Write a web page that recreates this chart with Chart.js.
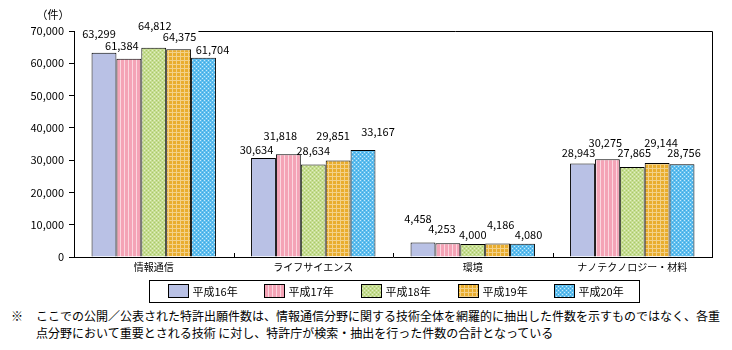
<!DOCTYPE html>
<html>
<head>
<meta charset="utf-8">
<script src="https://cdn.jsdelivr.net/npm/chart.js@4.4.0/dist/chart.umd.min.js"></script>
<style>
  body { margin: 0; background: #fff; width: 732px; height: 350px; overflow: hidden; }
  #wrap { position: relative; width: 732px; height: 305px; }
  .note { font: 12px "Noto Sans CJK JP", sans-serif; color: #000; position: absolute; left: 11px; top: 307px; width: 721px; line-height: 17px; white-space: nowrap; }
  .note span { position: absolute; left: 0; }
  .note div { margin-left: 25px; }
</style>
</head>
<body>
<div id="wrap"><canvas id="chart" width="732" height="305"></canvas></div>
<div class="note"><span>※</span><div>ここでの公開／公表された特許出願件数は、情報通信分野に関する技術全体を網羅的に抽出した件数を示すものではなく、各重<br>点分野において重要とされる技術 に対し、特許庁が検索・抽出を行った件数の合計となっている</div></div>
<script>
// データ
const categories = ['情報通信', 'ライフサイエンス', '環境', 'ナノテクノロジー・材料'];
const years = ['平成16年', '平成17年', '平成18年', '平成19年', '平成20年'];
const h16 = [63299, 30634, 4458, 28943];
const h17 = [61384, 31818, 4253, 30275];
const h18 = [64812, 28634, 4000, 27865];
const h19 = [64375, 29851, 4186, 29144];
const h20 = [61704, 33167, 4080, 28756];
const yTicks = [0, 10000, 20000, 30000, 40000, 50000, 60000, 70000];

const FONT = '"Noto Sans CJK JP", sans-serif';

// posun popisov (štýl, nie dáta): medzera nad stĺpcom a vodorovný posun
const labelGap = [[15, 4, 20, 7], [9, 14, 10, 12], [18, 10, 5, 10], [8, 21, 14, 16], [4, 14, 5, 7]];
const labelDx = [[-5, -7, -5, -4], [-7, -8, -6, -2], [1, 0, 0, 2], [1, -5, 3, 4], [9, 15, 6, 2]];

// vzorky výplne
function makePattern(kind) {
    const c = document.createElement('canvas');
    const s = 4;
    c.width = s; c.height = s;
    const g = c.getContext('2d');
    if (kind === 0) {
        g.fillStyle = '#b9c1e5'; g.fillRect(0, 0, s, s);
    } else if (kind === 1) {
        g.fillStyle = '#f4a3b6'; g.fillRect(0, 0, s, s);
        g.fillStyle = '#fbd6df'; g.fillRect(0, 0, 1, s);
    } else if (kind === 2) {
        g.fillStyle = '#c6dd91'; g.fillRect(0, 0, s, s);
        g.fillStyle = '#a9c86a';
        g.fillRect(0, 0, 1, 1); g.fillRect(2, 2, 1, 1);
        g.fillStyle = '#e2efc6';
        g.fillRect(2, 0, 1, 1); g.fillRect(0, 2, 1, 1);
    } else if (kind === 3) {
        g.fillStyle = '#e9ad2e'; g.fillRect(0, 0, s, s);
        g.fillStyle = '#f3d189';
        g.fillRect(0, 0, s, 1); g.fillRect(0, 0, 1, s);
    } else {
        g.fillStyle = '#5fbeee'; g.fillRect(0, 0, s, s);
        g.fillStyle = '#c9ebfb';
        g.fillRect(0, 0, 1, 1); g.fillRect(2, 2, 1, 1);
        g.fillStyle = '#3ea8e4';
        g.fillRect(2, 0, 1, 1); g.fillRect(0, 2, 1, 1);
    }
    return document.getElementById('chart').getContext('2d').createPattern(c, 'repeat');
}

const series = [h16, h17, h18, h19, h20];
const datasets = series.map((d, i) => ({
    label: years[i],
    data: d,
    backgroundColor: makePattern(i),
    borderColor: '#000',
    borderWidth: 1,
    borderSkipped: 'bottom',
    categoryPercentage: 0.78,
    barPercentage: 1.0
}));

const fmt = v => v.toLocaleString('en-US');

// hodnoty nad stĺpcami + rám + legenda
const extras = {
    id: 'extras',
    afterDatasetsDraw(chart) {
        const ctx = chart.ctx;
        const a = chart.chartArea;
        ctx.save();
        ctx.strokeStyle = '#000';
        ctx.lineWidth = 1;
        // značky kategórií
        const xs = chart.scales.x;
        for (let k = 1; k < categories.length; k++) {
            const x = Math.round((xs.getPixelForValue(k - 1) + xs.getPixelForValue(k)) / 2) + 0.5;
            ctx.beginPath();
            ctx.moveTo(x, a.bottom);
            ctx.lineTo(x, a.bottom - 4);
            ctx.stroke();
        }
        // hodnoty
        ctx.font = '11px ' + FONT;
        ctx.textAlign = 'center';
        ctx.textBaseline = 'alphabetic';
        let lineStart = a.left;
        chart.data.datasets.forEach((ds, i) => {
            chart.getDatasetMeta(i).data.forEach((bar, j) => {
                const txt = fmt(ds.data[j]);
                const x = bar.x + labelDx[i][j];
                const y = bar.y - labelGap[i][j];
                const w = ctx.measureText(txt).width;
                if (y - 10 < a.top + 1) lineStart = Math.max(lineStart, x + w / 2 + 2);
                ctx.fillStyle = '#000';
                ctx.fillText(txt, x, y);
            });
        });
        // horný a pravý okraj
        ctx.beginPath();
        ctx.moveTo(lineStart, a.top + 0.5);
        ctx.lineTo(a.right + 0.5, a.top + 0.5);
        ctx.lineTo(a.right + 0.5, a.bottom);
        ctx.stroke();
        // (件)
        ctx.textAlign = 'center';
        ctx.textBaseline = 'middle';
        ctx.font = '11px ' + FONT;
        ctx.fillText('（件）', 53, 15);
        // legenda
        const n = chart.data.datasets.length;
        const step = 96.7;
        const lw = 490;
        const lx = Math.round((a.left + a.right) / 2 - lw / 2 + 0.5) + 0.5;
        const ly = 280.5;
        ctx.strokeRect(lx, ly, lw, 22);
        ctx.font = '11px ' + FONT;
        ctx.textAlign = 'left';
        chart.data.datasets.forEach((ds, i) => {
            const sx = Math.round(lx + 18 + i * step) + 0.5;
            ctx.fillStyle = ds.backgroundColor;
            ctx.fillRect(sx, ly + 4, 20, 13);
            ctx.strokeRect(sx, ly + 4, 20, 13);
            ctx.fillStyle = '#000';
            ctx.fillText(ds.label, sx + 24, ly + 11);
        });
        ctx.restore();
    }
};

new Chart(document.getElementById('chart'), {
    type: 'bar',
    data: { labels: categories, datasets: datasets },
    options: {
        responsive: false,
        animation: false,
        layout: { padding: { top: 31, right: 20, left: 0, bottom: 28 } },
        plugins: {
            legend: { display: false },
            tooltip: { enabled: false }
        },
        scales: {
            x: {
                grid: { display: false, drawTicks: false },
                border: { color: '#000', width: 1 },
                ticks: { color: '#000', font: { family: FONT, size: 10 }, padding: 4, maxRotation: 0 }
            },
            y: {
                min: 0,
                max: 70000,
                afterBuildTicks: s => { s.ticks = yTicks.map(v => ({ value: v })); },
                afterFit: s => { s.width = 74; },
                grid: { drawOnChartArea: false, drawTicks: true, tickLength: 5, color: '#000' },
                border: { color: '#000', width: 1 },
                ticks: { color: '#000', font: { family: FONT, size: 11 }, padding: 5, callback: v => fmt(v) }
            }
        }
    },
    plugins: [extras]
});
</script>
</body>
</html>
